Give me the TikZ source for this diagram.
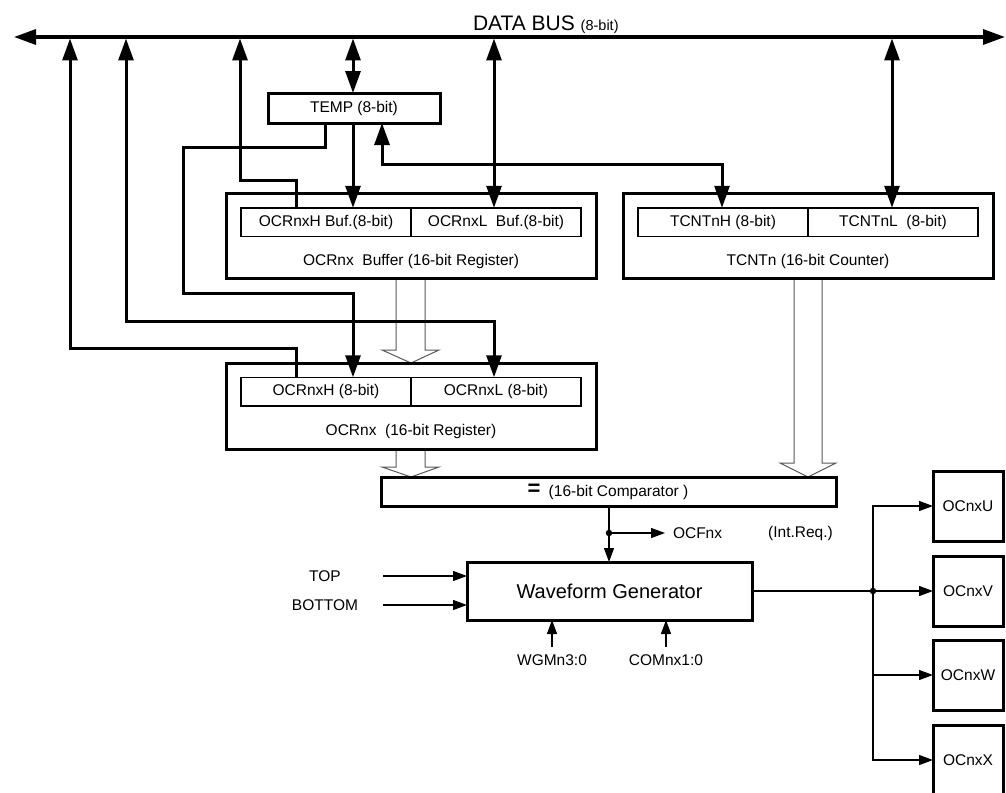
\documentclass[tikz,border=0pt]{standalone}
\usepackage{fontspec}
\setmainfont{Liberation Sans}
\usetikzlibrary{arrows.meta}
\begin{document}
\begin{tikzpicture}[x=1pt,y=-1pt,
  every node/.style={inner sep=0pt, outer sep=0pt, font=\fontsize{15.5}{18}\selectfont},
  outerbox/.style={draw, line width=3pt, minimum width=370pt, minimum height=85pt},
  sub/.style={draw, line width=1.5pt, minimum width=170pt, minimum height=28.5pt},
  thickbox/.style={draw, line width=3pt},
  outbox/.style={draw, line width=3pt, minimum width=70pt, minimum height=70pt},
  wide/.style={line width=3pt},
  thinl/.style={line width=1.2pt},
  tip/.style={-{Triangle[length=22pt,width=15pt]}},
  bi/.style={{Triangle[length=22pt,width=15pt]}-{Triangle[length=22pt,width=15pt]}},
  stip/.style={-{Triangle[length=14pt,width=10pt]}},
  hollow/.style={draw=black!65, line width=1pt, fill=white, line join=miter},
  dot/.style={circle, fill, minimum size=6.5pt}
]
\useasboundingbox (0,0) rectangle (1006,792);

% hollow (bus) arrows
\draw[hollow] (396,278) -- (396,350) -- (382,350) -- (411,363) -- (439,350) -- (425,350) -- (425,278);
\draw[hollow] (794,278) -- (794,463) -- (780,463) -- (808,477) -- (836,463) -- (822,463) -- (822,278);
\draw[hollow] (396,449) -- (396,467) -- (382,467) -- (411,477) -- (439,467) -- (425,467) -- (425,449);

% registers
\node[outerbox] (buf) at (411,235.5) {};
\node[sub] (bufH) at (326,222) {OCRnxH Buf.(8-bit)};
\node[sub] (bufL) at (496,222) {OCRnxL\ \ Buf.(8-bit)};
\node (buflab) at (411,261) {OCRnx\ \ Buffer (16-bit Register)};

\node[outerbox] (tcnt) at (808,235.5) {};
\node[sub] (tcntH) at (723,222) {TCNTnH (8-bit)};
\node[sub] (tcntL) at (893,222) {TCNTnL\ \ (8-bit)};
\node (tcntlab) at (808,261) {TCNTn (16-bit Counter)};

\node[outerbox, minimum height=86pt] (ocr) at (411,406) {};
\node[sub] (ocrH) at (326,391.5) {OCRnxH (8-bit)};
\node[sub] (ocrL) at (496,391.5) {OCRnxL (8-bit)};
\node (ocrlab) at (411,431) {OCRnx\ \ (16-bit Register)};

\node[thickbox, minimum width=172pt, minimum height=30pt] (temp) at (354,108) {TEMP (8-bit)};

\node[thickbox, minimum width=455pt, minimum height=29pt] (comp) at (608.5,491.5) {};
\node (eq) at (534,489.5) {\fontsize{22}{22}\selectfont\bfseries =};
\node (complab) at (618.5,492) {(16-bit Comparator )};

\node[thickbox, minimum width=285pt, minimum height=58pt, font=\fontsize{20}{24}\selectfont] (wg) at (609.5,591) {Waveform Generator};

\node[outbox] (oU) at (968,506) {OCnxU};
\node[outbox] (oV) at (968,591) {OCnxV};
\node[outbox] (oW) at (968,675) {OCnxW};
\node[outbox] (oX) at (968,760) {OCnxX};

% data bus
\coordinate (busL) at (14,37);
\coordinate (busR) at (1005,37);
\draw[line width=3.3pt, bi] (busL) -- (busR);
\node[anchor=base west] (dbl) at (473,31) {\fontsize{21}{24}\selectfont DATA BUS \fontsize{14.5}{16}\selectfont(8-bit)};

\coordinate (t1) at (70,38.5);
\coordinate (t2) at (126,38.5);
\coordinate (t3) at (240,38.5);
\coordinate (t4) at (353,38.5);
\coordinate (t5) at (494,38.5);
\coordinate (t6) at (892,38.5);

% thick connectors
\draw[wide, tip] (ocrH.north -| 296,0) |- (70,348) -- (t1);
\draw[wide, bi] (t2) -- (126,321) -| (ocrL.north -| 494,0);
\draw[wide, tip] (temp.south -| 325,0) |- (183,147) |- (353,293) -- (ocrH.north -| 353,0);
\draw[wide, tip] (bufH.north -| 296,0) |- (240,180) -- (t3);
\draw[wide, bi] (t4) -- (temp.north -| 353,0);
\draw[wide, tip] (temp.south -| 353,0) -- (bufH.north -| 353,0);
\draw[wide, bi] (temp.south -| 382,0) |- (722,164) -- (tcntH.north -| 722,0);
\draw[wide, bi] (t5) -- (bufL.north -| 494,0);
\draw[wide, bi] (t6) -- (tcntL.north -| 892,0);

% comparator output
\node[dot] (d1) at (609,533) {};
\draw[thinl, stip] (comp.south -| 609,0) -- (wg.north -| 609,0);
\node[anchor=west] (ocf) at (673,533) {OCFnx};
\draw[thinl, stip] (d1.center) -- ([xshift=-8pt]ocf.west);
\node (intreq) at (800.5,533) {(Int.Req.)};

% inputs
\node (top) at (325,576) {TOP};
\node (bot) at (325,605) {BOTTOM};
\draw[thinl, stip] (top.east -| 383,0) -- (top.east -| wg.west);
\draw[thinl, stip] (bot.east -| 383,0) -- (bot.east -| wg.west);
\node (wgm) at (552,660) {WGMn3:0};
\node (com) at (666,660) {COMnx1:0};
\draw[thinl, stip] (552,647) -- (wg.south -| 552,0);
\draw[thinl, stip] (666,647) -- (wg.south -| 666,0);

% outputs
\node[dot] (d2) at (873,591) {};
\draw[thinl] (wg.east) -- (d2.center);
\draw[thinl, stip] (d2.center) |- (oU.west);
\draw[thinl, stip] (d2.center) -- (oV.west);
\draw[thinl, stip] (d2.center) |- (oW.west);
\draw[thinl, stip] (d2.center) |- (oX.west);
\end{tikzpicture}
\end{document}
